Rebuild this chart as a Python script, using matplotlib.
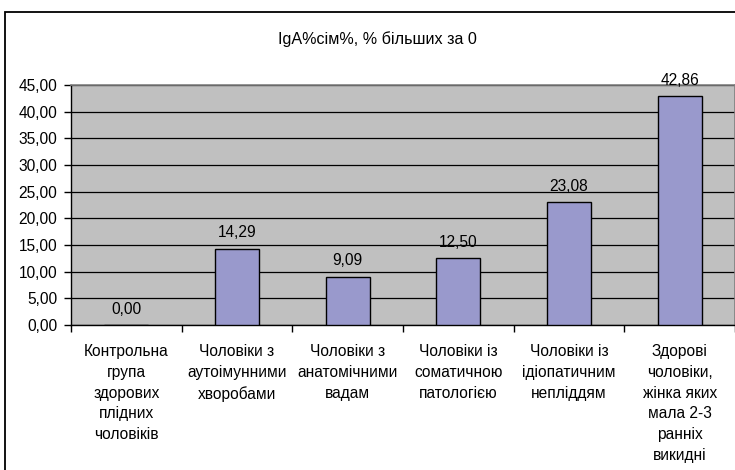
import matplotlib.pyplot as plt
from matplotlib.patches import Rectangle

plt.rcParams['font.family'] = ['Liberation Sans', 'DejaVu Sans']

title = "IgA%сім%, % більших за 0"
categories = [
    "Контрольна\nгрупа\nздорових\nплідних\nчоловіків",
    "Чоловіки з\nаутоімунними\nхворобами",
    "Чоловіки з\nанатомічними\nвадам",
    "Чоловіки із\nсоматичною\nпатологією",
    "Чоловіки із\nідіопатичним\nнепліддям",
    "Здорові\nчоловіки,\nжінка яких\nмала 2-3\nранніх\nвикидні",
]
values = [0.00, 14.29, 9.09, 12.50, 23.08, 42.86]
yticks = [0, 5, 10, 15, 20, 25, 30, 35, 40, 45]


def fmt(v):
    return f"{v:.2f}".replace('.', ',')


fs = 11.2

fig = plt.figure(figsize=(7.35, 4.70), dpi=100)
fig.patch.set_facecolor('white')

# outer chart border (cropped on right and bottom like the original)
fig.patches.append(Rectangle((5 / 735, -0.05), 1.1, 1.05 - 12 / 470,
                             transform=fig.transFigure, fill=False,
                             edgecolor='black', linewidth=1.3, clip_on=False))

ax = fig.add_axes([71 / 735, 1 - 325 / 470, 664 / 735, 240 / 470])
ax.set_facecolor('#C0C0C0')

x = [i + 0.5 for i in range(len(values))]
ax.bar(x, values, width=0.4, color='#9999CC', edgecolor='black', linewidth=1, zorder=3)

for xi, v in zip(x, values):
    ax.annotate(fmt(v), (xi, v), xytext=(0, 6), textcoords='offset points',
                ha='center', va='bottom', fontsize=fs, color='black', zorder=4)

ax.set_xlim(0, 6)
ax.set_ylim(0, 45)
ax.set_yticks(yticks)
ax.set_yticklabels([fmt(t) for t in yticks], fontsize=fs)
ax.yaxis.grid(True, color='black', linewidth=0.9)
ax.set_axisbelow(True)

ax.set_xticks(x)
ax.set_xticklabels(categories, fontsize=fs, linespacing=1.47, va='top')
ax.set_xticks(range(7), minor=True)
ax.tick_params(axis='x', which='major', length=0, pad=14)
ax.tick_params(axis='x', which='minor', length=5, width=1, color='black')
ax.tick_params(axis='y', length=5, width=1, pad=5, color='black')

for side in ['top', 'right']:
    ax.spines[side].set_color('#808080')
    ax.spines[side].set_linewidth(1.2)
for side in ['left', 'bottom']:
    ax.spines[side].set_color('black')
    ax.spines[side].set_linewidth(1)

fig.text(377 / 735, 1 - 39 / 470, title, ha='center', va='center', fontsize=11.6)

fig.savefig('out.png', dpi=100)
